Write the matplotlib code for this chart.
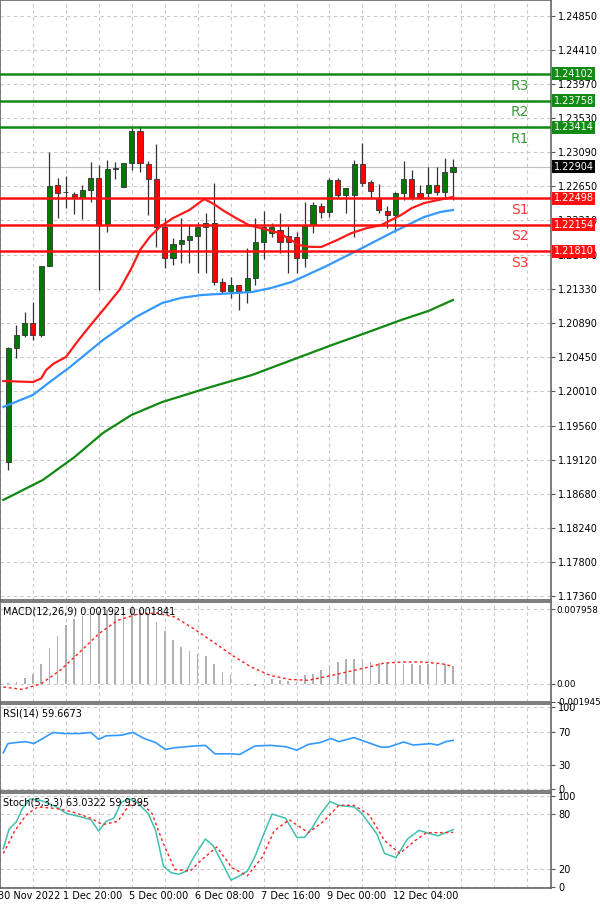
import numpy as np
import matplotlib
matplotlib.use("Agg")
import matplotlib.pyplot as plt
from matplotlib.transforms import blended_transform_factory

# EURUSD-style 4h candles: open, high, low, close
opens = [1.1909, 1.2056, 1.2073, 1.2089, 1.2073, 1.2162, 1.2267, 1.2258, 1.2255, 1.2250,
         1.2260, 1.2276, 1.2215, 1.2287, 1.2264, 1.2295, 1.2337, 1.2294, 1.2275, 1.2213,
         1.2173, 1.2191, 1.2196, 1.2201, 1.2213, 1.2218, 1.2142, 1.2130, 1.2138, 1.2130,
         1.2147, 1.2193, 1.2205, 1.2209, 1.2201, 1.2199, 1.2173, 1.2215, 1.2240, 1.2232,
         1.2273, 1.2254, 1.2254, 1.2294, 1.2271, 1.2249, 1.2233, 1.2228, 1.2256, 1.2275,
         1.2256, 1.2256, 1.2267, 1.2258, 1.2283]
highs = [1.2058, 1.2086, 1.2103, 1.2116, 1.2162, 1.2309, 1.2276, 1.2278, 1.2258, 1.2267,
         1.2296, 1.2293, 1.2299, 1.2296, 1.2267, 1.2340, 1.2343, 1.2298, 1.2320, 1.2224,
         1.2198, 1.2224, 1.2215, 1.2219, 1.2231, 1.2269, 1.2147, 1.2148, 1.2138, 1.2185,
         1.2224, 1.2233, 1.2218, 1.2231, 1.2214, 1.2206, 1.2245, 1.2245, 1.2244, 1.2276,
         1.2276, 1.2263, 1.2299, 1.2321, 1.2273, 1.2268, 1.2240, 1.2258, 1.2298, 1.2286,
         1.2267, 1.2290, 1.2290, 1.2302, 1.2300]
lows = [1.1899, 1.2043, 1.2070, 1.2067, 1.2070, 1.2162, 1.2224, 1.2237, 1.2229, 1.2223,
        1.2245, 1.2131, 1.2206, 1.2275, 1.2264, 1.2286, 1.2284, 1.2228, 1.2187, 1.2160,
        1.2164, 1.2166, 1.2166, 1.2153, 1.2153, 1.2138, 1.2127, 1.2121, 1.2105, 1.2114,
        1.2138, 1.2171, 1.2199, 1.2179, 1.2153, 1.2153, 1.2161, 1.2205, 1.2224, 1.2225,
        1.2250, 1.2231, 1.2200, 1.2265, 1.2249, 1.2231, 1.2211, 1.2206, 1.2247, 1.2247,
        1.2249, 1.2251, 1.2254, 1.2250, 1.2247]
closes = [1.2056, 1.2073, 1.2089, 1.2073, 1.2162, 1.2265, 1.2256, 1.2258, 1.2251, 1.2260,
          1.2276, 1.2215, 1.2287, 1.2289, 1.2295, 1.2337, 1.2295, 1.2275, 1.2213, 1.2173,
          1.2191, 1.2196, 1.2201, 1.2213, 1.2218, 1.2142, 1.2130, 1.2138, 1.2130, 1.2147,
          1.2193, 1.2213, 1.2213, 1.2193, 1.2193, 1.2173, 1.2215, 1.2241, 1.2232, 1.2273,
          1.2254, 1.2263, 1.2294, 1.2269, 1.2259, 1.2235, 1.2228, 1.2256, 1.2275, 1.2251,
          1.2251, 1.2267, 1.2258, 1.2283, 1.2290]

# moving averages (sampled at candle positions)
ma_red_x = [-0.6, 3, 4.0, 4.6, 5.5, 7, 8.5, 10.3, 11.5, 13.5, 15, 16, 17.2, 18.4, 20, 22, 23.8,
            25, 26, 27.5, 29.2, 31, 32.9, 34.3, 35.3, 36.5, 38, 40, 41.7, 43.5, 45.3, 47.7, 49, 50.5, 52.5, 54]
ma_red = [1.20136, 1.20123, 1.20170, 1.20278, 1.20360, 1.20446, 1.20660, 1.20898, 1.21050, 1.21312,
          1.21600, 1.21828, 1.22000, 1.22125, 1.22240, 1.22345, 1.22487, 1.22420, 1.22345, 1.22250,
          1.22151, 1.22100, 1.22048, 1.21960, 1.21893, 1.21870, 1.21867, 1.21960, 1.22048, 1.22110,
          1.22151, 1.22280, 1.22370, 1.22435, 1.22480, 1.22513]
ma_blue_x = [-0.6, 3, 5, 7.5, 11.5, 15.5, 18.7, 21, 23.5, 29.6, 32, 34.4, 38.4, 42.5, 46.5, 50.5, 52.5, 54]
ma_blue = [1.19801, 1.19956, 1.20120, 1.20317, 1.20666, 1.20963, 1.21144, 1.21210, 1.21247, 1.21286,
           1.21340, 1.21415, 1.21609, 1.21828, 1.22048, 1.22255, 1.22320, 1.22345]
ma_green_x = [-0.6, 4.2, 8, 11.5, 15, 18.7, 24, 29.6, 34.5, 39.3, 43.5, 47.7, 51, 54]
ma_green = [1.18600, 1.18858, 1.19150, 1.19465, 1.19700, 1.19865, 1.20040, 1.20214, 1.20410, 1.20601,
            1.20760, 1.20924, 1.21040, 1.21183]

levels = [1.24102, 1.23758, 1.23414, 1.22498, 1.22154, 1.21810]
level_names = ["R3", "R2", "R1", "S1", "S2", "S3"]
last_price = 1.22904
price_ticks = [1.24850, 1.24410, 1.23970, 1.23530, 1.23090, 1.22650, 1.22210, 1.21770, 1.21330,
               1.20890, 1.20450, 1.20010, 1.19560, 1.19120, 1.18680, 1.18240, 1.17800, 1.17360]

macd_hist = [0.00007, 0.00018, 0.00064, 0.00107, 0.00207, 0.00382, 0.00507, 0.00625, 0.00689, 0.00721,
             0.00757, 0.00778, 0.00785, 0.00792, 0.00796, 0.00796, 0.00785, 0.00749, 0.00660, 0.00560,
             0.00464, 0.00393, 0.00350, 0.00314, 0.00296, 0.00207, 0.00125, 0.00089, 0.0, -0.0001,
             -0.0002, -0.0001, 0.00054, 0.00043, 0.00029, 0.00018, 0.00089, 0.00107, 0.00143, 0.00196,
             0.00232, 0.00261, 0.00261, 0.00261, 0.00232, 0.00225, 0.00225, 0.00214, 0.00207, 0.00207,
             0.00196, 0.00207, 0.00207, 0.00207, 0.00192]
macd_sig_x = [-0.6, 1.7, 4.0, 6.3, 8.7, 11.0, 13.3, 15.6, 17.9, 20.2, 22.5, 24.9, 27.2, 29.5, 31.8,
              34.1, 36.4, 38.8, 41.1, 43.4, 45.7, 48.0, 50.3, 52.6, 54]
macd_sig = [-0.00036, -0.00061, 0.0, 0.00143, 0.00339, 0.00535, 0.00678, 0.00742, 0.00757, 0.00714,
            0.00589, 0.00446, 0.00303, 0.00178, 0.00089, 0.00046, 0.00036, 0.00079, 0.00125, 0.00171,
            0.00221, 0.00232, 0.00232, 0.00214, 0.00184]

rsi_zx = [0, 12, 30, 60, 80, 100, 130, 160, 200, 230, 250, 270, 310, 340, 370, 400, 425, 450, 500, 530,
          555, 600, 620, 660, 700, 740, 770, 800, 830, 860, 880, 920, 950, 990, 1010, 1050, 1075, 1120,
          1140, 1160, 1180]
rsi = [44.5, 55.7, 56.9, 58.1, 55.7, 61.0, 69.3, 68.0, 68.0, 69.3, 61.0, 65.2, 66.0, 69.3, 61.9, 56.9,
       48.7, 50.7, 52.8, 53.6, 43.3, 43.3, 42.5, 52.8, 53.6, 52.0, 47.8, 54.8, 56.9, 61.9, 58.1, 63.1,
       58.1, 51.5, 51.5, 57.7, 54.0, 55.7, 54.0, 58.1, 59.7]

stk_zx = [0, 15, 35, 50, 70, 100, 140, 165, 200, 230, 250, 270, 290, 310, 330, 350, 380, 400, 420, 440,
          460, 480, 500, 530, 550, 570, 597, 620, 640, 660, 683, 705, 740, 770, 790, 810, 830, 857, 880,
          920, 940, 980, 1000, 1030, 1060, 1090, 1110, 1140, 1160, 1180]
stoch_k = [42.1, 63.2, 71.9, 86.0, 96.5, 94.7, 87.7, 80.7, 77.2, 73.7, 61.4, 71.9, 75.4, 93.0, 96.5,
           93.0, 80.7, 61.4, 22.8, 15.8, 14.0, 17.5, 33.3, 52.6, 45.6, 29.8, 7.7, 12.3, 17.5, 33.3, 57.9,
           80.0, 75.4, 54.4, 54.4, 64.9, 78.9, 93.7, 89.5, 87.7, 80.7, 57.9, 36.8, 32.3, 52.6, 62.1, 59.6,
           56.1, 59.6, 63.0]
std_zx = [0, 30, 60, 90, 140, 180, 230, 260, 300, 330, 360, 390, 420, 450, 490, 520, 560, 600, 640, 680,
          710, 750, 800, 840, 880, 920, 960, 1000, 1040, 1080, 1110, 1150, 1180]
stoch_d = [36.8, 61.4, 78.9, 87.7, 86.0, 82.5, 75.4, 68.4, 71.9, 89.5, 93.0, 80.7, 47.4, 19.3, 17.5,
           29.8, 43.9, 21.1, 12.3, 33.3, 61.4, 73.7, 59.6, 71.9, 89.5, 89.5, 78.9, 50.9, 36.8, 50.9, 59.6,
           59.6, 59.9]

tick_idx = [-1, 7, 15, 23, 31, 39, 47]
tick_labels = ["30 Nov 2022", "1 Dec 20:00", "5 Dec 00:00", "6 Dec 08:00", "7 Dec 16:00",
               "9 Dec 00:00", "12 Dec 04:00"]

# indicator sample positions were read in zoom pixels -> candle index
rsi_x = [(z - 13) / 21.6 for z in rsi_zx]
stk_x = [(z - 13) / 21.6 for z in stk_zx]
std_x = [(z - 13) / 21.6 for z in std_zx]

W, H = 600, 908
fig = plt.figure(figsize=(6, 9.08), dpi=100)
AXW = 551 / W


def make_ax(top, bottom):
    return fig.add_axes([0, 1 - bottom / H, AXW, (bottom - top) / H])


ax = make_ax(0, 600)
ax_m = make_ax(602, 702)
ax_r = make_ax(704, 791)
ax_s = make_ax(793, 888)

XMIN, XMAX = -0.6, 65.9
grid_x = np.arange(-1, 66, 4)
for a in (ax, ax_m, ax_r, ax_s):
    a.set_xlim(XMIN, XMAX)
    a.yaxis.tick_right()
    a.tick_params(axis="y", labelsize=7, length=3, color="#555555", pad=2)
    a.set_xticks(grid_x)
    a.tick_params(axis="x", length=0, labelbottom=False)
    a.grid(True, color="#c8c8c8", ls=(0, (3, 3)), lw=0.8)
    a.set_axisbelow(True)
    for s in a.spines.values():
        s.set_color("#666666")
        s.set_linewidth(1.2)

# main price panel
ax.set_ylim(1.17308, 1.25057)
ax.set_yticks(price_ticks)
ax.set_yticklabels([f"{t:.5f}" for t in price_ticks])

x = np.arange(len(opens))
for i in x:
    o, h, l, c = opens[i], highs[i], lows[i], closes[i]
    ax.vlines(i, l, h, color="#333333", lw=0.9, zorder=3)
    col = "#007a00" if c >= o else "#ff0000"
    bot, top = min(o, c), max(o, c)
    ax.bar(i, max(top - bot, 0.00003), bottom=bot, width=0.62, color=col,
           edgecolor="#333333", linewidth=0.6, zorder=4)

ax.plot(ma_red_x, ma_red, color="#ff1a1a", lw=1.6, zorder=5)
ax.plot(ma_blue_x, ma_blue, color="#3399ff", lw=1.6, zorder=5)
ax.plot(ma_green_x, ma_green, color="#118811", lw=1.6, zorder=5)

ax.axhline(last_price, color="#c0c0c0", lw=0.8, zorder=2)
trans = blended_transform_factory(ax.transAxes, ax.transData)
for lv, name in zip(levels, level_names):
    col = "#138a13" if name.startswith("R") else "#ff1010"
    tcol = "#3c9a3c" if name.startswith("R") else "#ff3b3b"
    ax.axhline(lv, color=col, lw=1.8, zorder=6)
    ax.text(0.943, lv - 0.0006, name, transform=trans, color=tcol, fontsize=10,
            ha="center", va="top", zorder=7)
    ax.text(1.005, lv, f"{lv:.5f}", transform=trans, color="white", fontsize=7,
            ha="left", va="center", zorder=8,
            bbox=dict(boxstyle="square,pad=0.15", fc=col, ec="none"), clip_on=False)
ax.text(1.005, last_price, f"{last_price:.5f}", transform=trans, color="white", fontsize=7,
        ha="left", va="center", zorder=8,
        bbox=dict(boxstyle="square,pad=0.15", fc="black", ec="none"), clip_on=False)

# MACD
ax_m.set_ylim(-0.00196, 0.00874)
ax_m.bar(x, macd_hist, width=0.2, color="#b0b0b0", zorder=3)
ax_m.plot(macd_sig_x, macd_sig, color="#ff2020", lw=1, ls=(0, (2, 2)), zorder=4)
ax_m.set_yticks([0.007958, 0.0, -0.001945])
ax_m.set_yticklabels(["0.007958", "0.00", "-0.001945"])
ax_m.tick_params(axis="y", labelsize=6.3, pad=1)
ax_m.text(0.005, 0.96, "MACD(12,26,9) 0.001921 0.001841", transform=ax_m.transAxes,
          fontsize=7, va="top", ha="left", zorder=6)

# RSI
ax_r.set_ylim(-2, 104)
ax_r.plot(rsi_x, rsi, color="#3399ff", lw=1.2, zorder=4)
ax_r.set_yticks([100, 70, 30, 0])
ax_r.text(0.005, 0.95, "RSI(14) 59.6673", transform=ax_r.transAxes,
          fontsize=7, va="top", ha="left", zorder=6)

# Stochastic
ax_s.set_ylim(-1, 103)
ax_s.plot(stk_x, stoch_k, color="#40c0b0", lw=1.1, zorder=4)
ax_s.plot(std_x, stoch_d, color="#ff2020", lw=1, ls=(0, (2, 2)), zorder=4)
ax_s.set_yticks([100, 80, 20, 0])
ax_s.text(0.005, 0.95, "Stoch(5,3,3) 63.0322 59.9395", transform=ax_s.transAxes,
          fontsize=7, va="top", ha="left", zorder=6)

for ti, tl in zip(tick_idx, tick_labels):
    ax_s.text(ti - 0.3, -0.03, tl, transform=blended_transform_factory(ax_s.transData, ax_s.transAxes),
              fontsize=7, ha="left", va="top", clip_on=False)

fig.savefig("out.png", dpi=100, facecolor="white")
